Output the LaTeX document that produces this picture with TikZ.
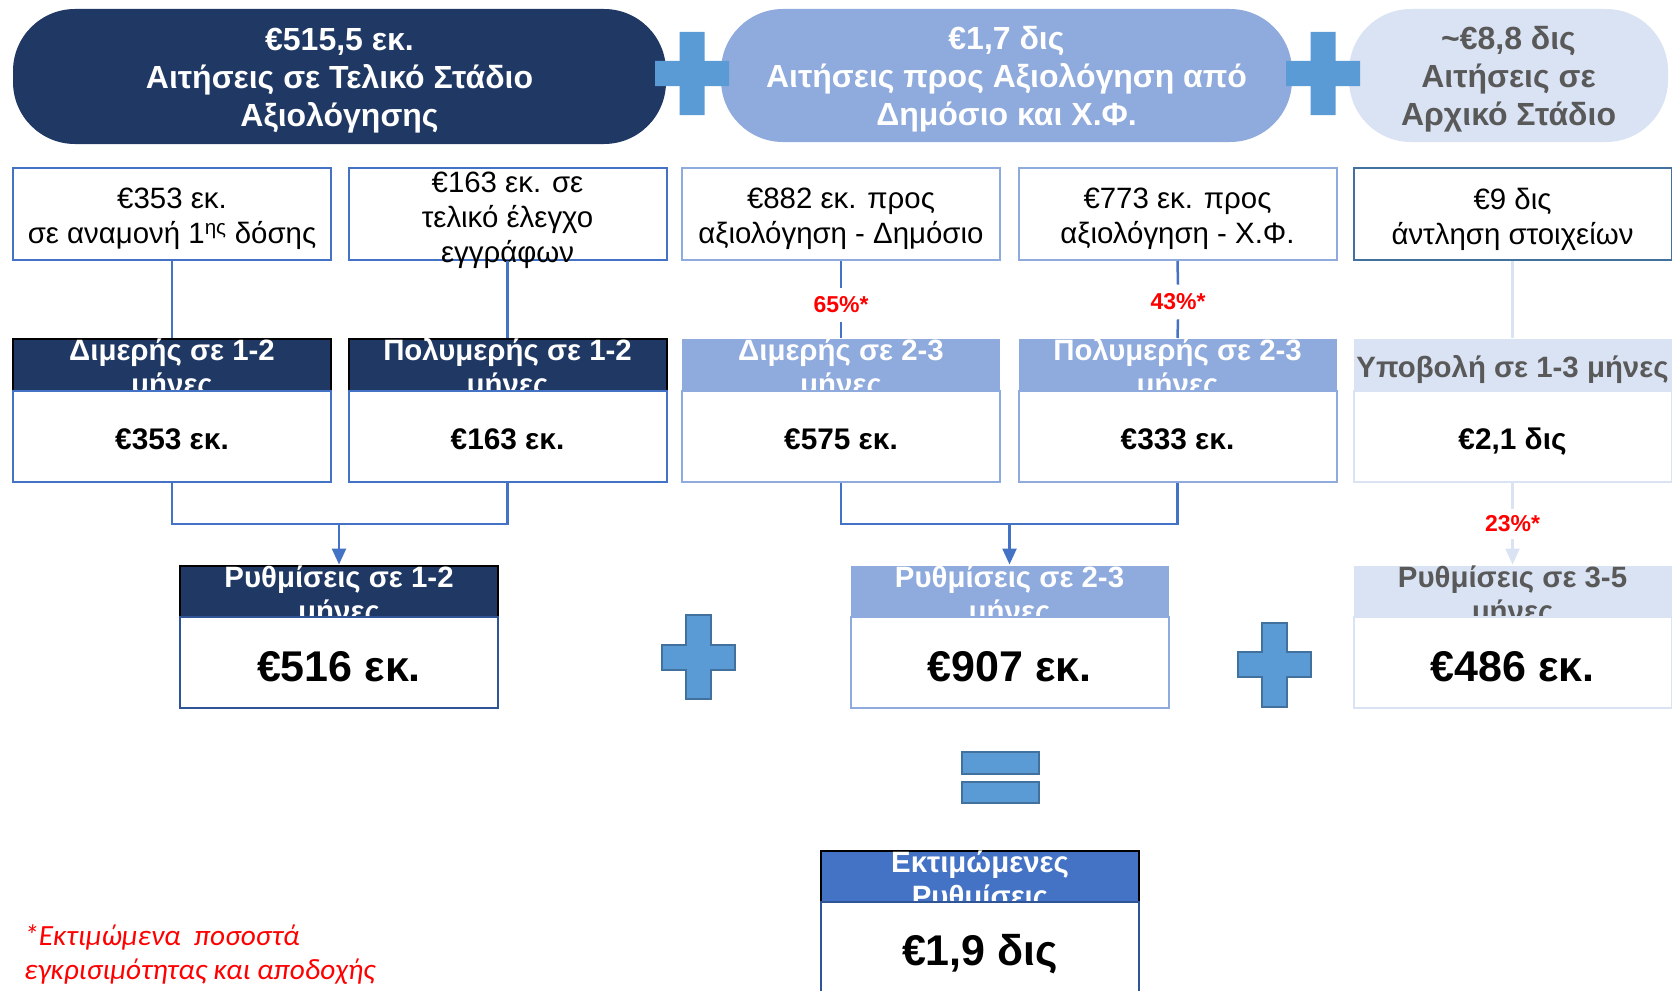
\documentclass[tikz,border=0pt]{standalone}
\usepackage{fontspec}
\setmainfont{Liberation Sans}
\newfontfamily\notefont{Carlito}
\usetikzlibrary{arrows.meta}
\usetikzlibrary{calc}
\usetikzlibrary{positioning}

\definecolor{NavyBlue}{HTML}{203864}
\definecolor{MidBlue}{HTML}{8FAADC}
\definecolor{PaleBlue}{HTML}{DAE3F3}
\definecolor{LineBlue}{HTML}{4472C4}
\definecolor{DeepBlue}{HTML}{2F5597}
\definecolor{PlusFill}{HTML}{5B9BD5}
\definecolor{PlusEdge}{HTML}{41719C}
\definecolor{GreyText}{HTML}{595959}

\newcommand{\PlusSign}[5]{
	\filldraw[#1] (#2-12.5,#3-#5) -- (#2+12.5,#3-#5) -- (#2+12.5,#3-12.5) -- (#2+#4,#3-12.5) -- (#2+#4,#3+12.5) -- (#2+12.5,#3+12.5) -- (#2+12.5,#3+#5) -- (#2-12.5,#3+#5) -- (#2-12.5,#3+12.5) -- (#2-#4,#3+12.5) -- (#2-#4,#3-12.5) -- (#2-12.5,#3-12.5) -- cycle;
	
}

\begin{document}
\begin{tikzpicture}[x=1pt, y=-1pt, >={Triangle[length=16pt,width=14pt]},
	pill/.style={rectangle, rounded corners=62pt, inner sep=0pt},
	pilltext/.style={inner sep=0pt, align=center, font=\fontsize{32}{38}\selectfont\bfseries},
	reqbox/.style={rectangle, draw, line width=2pt, fill=white, minimum width=318pt, minimum height=92pt, inner sep=0pt},
	reqtext/.style={inner sep=0pt, align=center, font=\fontsize{29.4}{35}\selectfont},
	headbox/.style={rectangle, line width=2pt, minimum width=318pt, minimum height=52pt, inner sep=0pt},
	headtext/.style={inner sep=0pt, align=center, font=\fontsize{29.4}{34}\selectfont\bfseries},
	sumbox/.style={rectangle, draw, line width=2pt, fill=white, minimum width=318pt, minimum height=91pt, inner sep=0pt, text height=25pt, text depth=0pt, font=\fontsize{29.8}{35}\selectfont\bfseries},
	bigsum/.style={text height=38pt, text depth=0pt, font=\fontsize{43}{48}\selectfont\bfseries},
	link/.style={draw=LineBlue, line width=2.5pt},
	rate/.style={text=red, inner xsep=2pt, inner ysep=9pt, font=\fontsize{23}{26}\selectfont\bfseries},
	plusflat/.style={fill=PlusFill, draw=none},
	plusshape/.style={fill=PlusFill, draw=PlusEdge, line width=2pt}
	]
	\useasboundingbox (0,0) rectangle (1672,990);
	%%%%%%%%%%%%%%%%%%%%%%%%%%%%%%%%%%%%%%%%%%%%%%%%%%%%%%%%%%
	% top row: the three stages
	\node[pill, fill=NavyBlue, minimum width=653pt, minimum height=135pt] (pFinal) at (339.5,76.5) {};
	\node[pilltext, text=white] (pFinalt) at (339.5,80.5) {€515,5 εκ.\\Αιτήσεις σε Τελικό Στάδιο\\Αξιολόγησης};
	\node[pill, fill=MidBlue, minimum width=571pt, minimum height=133pt] (pEval) at (1006.5,75.5) {};
	\node[pilltext, text=white] (pEvalt) at (1006.5,79.5) {€1,7 δις\\Αιτήσεις προς Αξιολόγηση από\\Δημόσιο και Χ.Φ.};
	\node[pill, fill=PaleBlue, minimum width=319pt, minimum height=133pt] (pEarly) at (1508.5,75.5) {};
	\node[pilltext, text=GreyText] (pEarlyt) at (1508.5,79.5) {\textasciitilde€8,8 δις\\Αιτήσεις σε\\Αρχικό Στάδιο};
	
	\PlusSign{plusflat}{692}{73.5}{37}{41.5}
	\PlusSign{plusflat}{1323}{73.5}{37}{41.5}
	
	%%%%%%%%%%%%%%%%%%%%%%%%%%%%%%%%%%%%%%%%%%%%%%%%%%%%%%%%%%
	% second row: applications
	\node[reqbox, draw=LineBlue] (r1) at (172,214) {};
	\node[reqtext] (r1t) at (172,219) {€353 εκ.\\σε αναμονή 1\textsuperscript{ης} δόσης};
	\node[reqbox, draw=LineBlue] (r2) at (507.5,214) {};
	\node[reqtext] (r2t) at (507.5,220) {€163 εκ. σε\\τελικό έλεγχο\\εγγράφων};
	\node[reqbox, draw=MidBlue] (r3) at (841,214) {};
	\node[reqtext] (r3t) at (841,219) {€882 εκ. προς\\αξιολόγηση - Δημόσιο};
	\node[reqbox, draw=MidBlue] (r4) at (1177.5,214) {};
	\node[reqtext] (r4t) at (1177.5,219) {€773 εκ. προς\\αξιολόγηση - Χ.Φ.};
	\node[reqbox, draw=PlusEdge] (r5) at (1512.5,214) {};
	\node[reqtext] (r5t) at (1512.5,219) {€9 δις\\άντληση στοιχείων};
	
	%%%%%%%%%%%%%%%%%%%%%%%%%%%%%%%%%%%%%%%%%%%%%%%%%%%%%%%%%%
	% third row: headers and amounts
	\node[headbox, fill=NavyBlue, draw=black] (h1) at (172,365) {};
	\node[headtext, text=white] (h1t) at (172,370) {Διμερής σε 1-2\\μήνες};
	\node[sumbox, draw=LineBlue] (s1) at (172,436.5) {€353 εκ.};
	
	\node[headbox, fill=NavyBlue, draw=black] (h2) at (507.5,365) {};
	\node[headtext, text=white] (h2t) at (507.5,370) {Πολυμερής σε 1-2\\μήνες};
	\node[sumbox, draw=LineBlue] (s2) at (507.5,436.5) {€163 εκ.};
	
	\node[headbox, fill=MidBlue] (h3) at (841,365) {};
	\node[headtext, text=white] (h3t) at (841,370) {Διμερής σε 2-3\\μήνες};
	\node[sumbox, draw=MidBlue] (s3) at (841,436.5) {€575 εκ.};
	
	\node[headbox, fill=MidBlue] (h4) at (1177.5,365) {};
	\node[headtext, text=white] (h4t) at (1177.5,370) {Πολυμερής σε 2-3\\μήνες};
	\node[sumbox, draw=MidBlue] (s4) at (1177.5,436.5) {€333 εκ.};
	
	\node[headbox, fill=PaleBlue] (h5) at (1512.5,365) {};
	\node[headtext, text=GreyText] (h5t) at (1512.5,370) {Υποβολή σε 1-3 μήνες};
	\node[sumbox, draw=PaleBlue] (s5) at (1512.5,436.5) {€2,1 δις};
	
	% links second row -> third row
	\draw[link] (r1.south) -- (h1.north);
	\draw[link] (r2.south) -- (h2.north);
	\node[rate] (p65) at (841,305) {65\%*};
	\draw[link] (r3.south) -- (p65.north);
	\draw[link] (p65.south) -- (h3.north);
	\node[rate] (p43) at (1178,302) {43\%*};
	\draw[link] (r4.south) -- (p43.north);
	\draw[link] (p43.south) -- (h4.north);
	\draw[link, draw=PaleBlue] (r5.south) -- (h5.north);
	
	%%%%%%%%%%%%%%%%%%%%%%%%%%%%%%%%%%%%%%%%%%%%%%%%%%%%%%%%%%
	% fourth row: settlements
	\node[headbox, fill=NavyBlue, draw=black] (g1) at (339,591.5) {};
	\node[headtext, text=white] (g1t) at (339,597) {Ρυθμίσεις σε 1-2\\μήνες};
	\node[sumbox, bigsum, draw=DeepBlue] (e1) at (339,662.5) {€516 εκ.};
	
	\node[headbox, fill=MidBlue] (g2) at (1009.5,591.5) {};
	\node[headtext, text=white] (g2t) at (1009.5,597) {Ρυθμίσεις σε 2-3\\μήνες};
	\node[sumbox, bigsum, draw=MidBlue] (e2) at (1009.5,662.5) {€907 εκ.};
	
	\node[headbox, fill=PaleBlue] (g3) at (1512.5,591.5) {};
	\node[headtext, text=GreyText] (g3t) at (1512.5,597) {Ρυθμίσεις σε 3-5\\μήνες};
	\node[sumbox, bigsum, draw=PaleBlue] (e3) at (1512.5,662.5) {€486 εκ.};
	
	% links third row -> fourth row
	\coordinate (j1) at (339,524);
	\coordinate (j2) at (1009.5,524);
	\draw[link] (s1.south) |- (j1) -| (s2.south);
	\draw[link, ->] (j1) -- (g1.north);
	\draw[link] (s3.south) |- (j2) -| (s4.south);
	\draw[link, ->] (j2) -- (g2.north);
	\node[rate, inner ysep=7pt] (p23) at (1512.5,524) {23\%*};
	\draw[link, draw=PaleBlue] (s5.south) -- (p23.north);
	\draw[link, draw=PaleBlue, ->] (p23.south) -- (g3.north);
	
	\PlusSign{plusshape}{698.5}{657}{36.5}{42}
	\PlusSign{plusshape}{1274.5}{664.5}{36.5}{42}
	
	%%%%%%%%%%%%%%%%%%%%%%%%%%%%%%%%%%%%%%%%%%%%%%%%%%%%%%%%%%
	% total
	\filldraw[plusshape] (962,752) rectangle (1039,774);
	\filldraw[plusshape] (962,782) rectangle (1039,803);
	
	\node[headbox, fill=LineBlue, draw=black] (gt) at (980,876.5) {};
	\node[headtext, text=white] (gtt) at (980,882) {Εκτιμώμενες\\Ρυθμίσεις};
	\node[sumbox, draw=DeepBlue, minimum height=98pt] (et) at (980,951) {};
	\node[bigsum, inner sep=0pt] (ett) at (980,946) {€1,9 δις};
	
	% footnote
	\node[anchor=west, inner sep=0pt, align=left, text=red, font=\notefont\itshape\fontsize{29.3}{34}\selectfont] (note) at (24,955) {*Εκτιμώμενα\ \ ποσοστά\\εγκρισιμότητας και αποδοχής};
	
\end{tikzpicture}
\end{document}
